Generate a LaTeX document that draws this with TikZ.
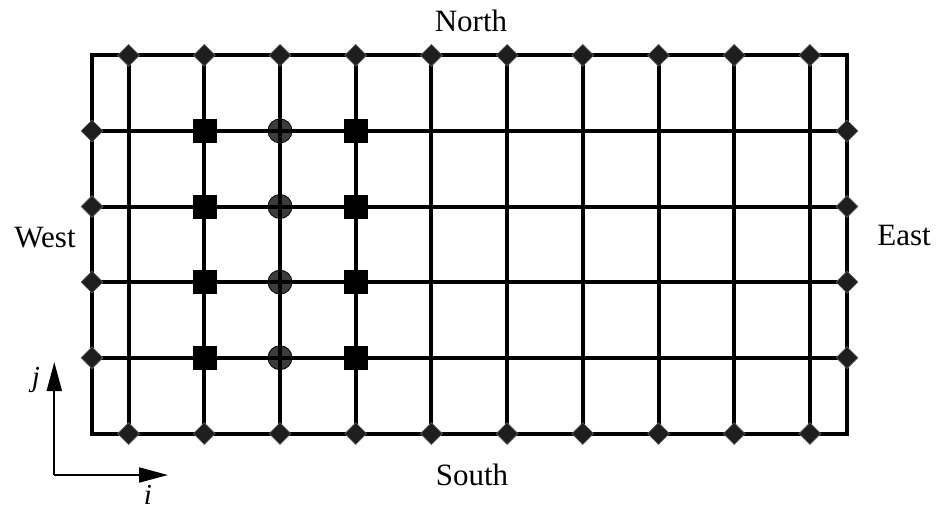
\documentclass[tikz,border=0pt]{standalone}
\usepackage{fontspec}
\setmainfont{Liberation Serif}
\usetikzlibrary{shapes.geometric,arrows.meta}
\definecolor{dia}{RGB}{30,30,30}
\definecolor{circ}{RGB}{60,60,60}
\tikzset{
  gridline/.style={line width=4pt, black},
  diam/.style={shape=diamond, minimum width=22pt, minimum height=22pt, inner sep=0pt, fill=dia, draw=dia!70!white, line width=0.6pt},
  sqr/.style={shape=rectangle, minimum size=24pt, inner sep=0pt, fill=black},
  circmark/.style={shape=circle, minimum size=24pt, inner sep=0pt, fill=circ, draw=black, line width=0.8pt},
  lbl/.style={font=\fontsize{31}{36}\selectfont, anchor=base, inner sep=0pt},
  axlbl/.style={font=\fontsize{29}{34}\selectfont\itshape, anchor=base, inner sep=0pt},
  axis/.style={line width=2pt, -{Triangle[length=29pt,width=15pt]}}
}
\begin{document}
\begin{tikzpicture}[x=1pt,y=-1pt]
\useasboundingbox (0,0) rectangle (936,512);
\def\xs{75.7}
% circles (under lines)
\foreach \j in {1,...,4}{
  \node[circmark] (c\j) at (280,{55.3+75.6*\j}) {};
}
% outer rectangle
\draw[gridline] (92,55.3) rectangle (847,433.6);
% vertical lines
\foreach \k in {0,...,9}{
  \draw[gridline] ({128.6+\xs*\k},55.3) -- ({128.6+\xs*\k},433.6);
}
% horizontal lines
\foreach \j in {1,...,4}{
  \draw[gridline] (92,{55.3+75.6*\j}) -- (847,{55.3+75.6*\j});
}
% squares
\foreach \j in {1,...,4}{
  \node[sqr] (sa\j) at (205,{55.3+75.6*\j}) {};
  \node[sqr] (sb\j) at (356,{55.3+75.6*\j}) {};
}
% diamonds top/bottom
\foreach \k in {0,...,9}{
  \node[diam] (dt\k) at ({128.6+\xs*\k},55.3) {};
  \node[diam] (db\k) at ({128.6+\xs*\k},433.6) {};
}
% diamonds left/right
\foreach \j in {1,...,4}{
  \node[diam] (dl\j) at (92,{55.3+75.6*\j}) {};
  \node[diam] (dr\j) at (847,{55.3+75.6*\j}) {};
}
% labels
\node[lbl] (north) at (471,31) {North};
\node[lbl] (south) at (472,485) {South};
\node[lbl] (west) at (45,247) {West};
\node[lbl] (east) at (904,245) {East};
% axes
\coordinate (o) at (54.3,475);
\coordinate (jt) at (54.3,362);
\coordinate (it) at (168,475);
\draw[axis] (o) -- (jt);
\draw[axis] (o) -- (it);
\node[axlbl] (jl) at (36,386) {j};
\node[axlbl] (il) at (148,504) {i};
\end{tikzpicture}
\end{document}
